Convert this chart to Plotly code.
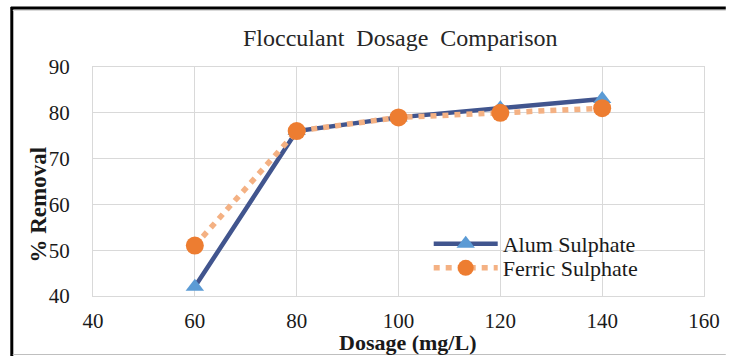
import plotly.graph_objects as go

dosage = [60, 80, 100, 120, 140]
alum = [42, 76, 79, 81, 83]
ferric = [51, 76, 79, 80, 81]
x_ticks = [40, 60, 80, 100, 120, 140, 160]
y_ticks = [40, 50, 60, 70, 80, 90]

W, H = 732, 356
ML, MR, MT, MB = 93, 22, 67, 60
PW, PH = W - ML - MR, H - MT - MB

def px(x):
    return (x - ML) / PW

def py(y):
    return (H - MB - y) / PH

SERIF = "Liberation Serif"

fig = go.Figure()
fig.add_trace(go.Scatter(
    x=dosage, y=alum, name="Alum Sulphate", mode="lines+markers",
    line=dict(color="#41558E", width=4.5),
    marker=dict(symbol="triangle-up", size=16, color="#5B9BD5"),
    cliponaxis=False, legend="legend",
))
fig.add_trace(go.Scatter(
    x=dosage, y=ferric, name="Ferric Sulphate", mode="lines+markers",
    line=dict(color="#F4B183", width=5.5, dash="6px,6px"),
    marker=dict(symbol="circle", size=18, color="#ED7D31"),
    cliponaxis=False, legend="legend2",
))

axis_common = dict(
    showgrid=True, gridcolor="#D9D9D9", gridwidth=1,
    showline=True, linecolor="#D9D9D9", linewidth=1, mirror=True,
    zeroline=False, ticks="",
    tickfont=dict(family=SERIF, size=21, color="#1a1a1a"),
)

fig.update_xaxes(range=[40, 160], tickvals=x_ticks, ticklabelstandoff=6, **axis_common)
fig.update_yaxes(range=[40, 90], tickvals=y_ticks, ticklabelstandoff=18, **axis_common)

shapes = [
    dict(type="line", xref="paper", yref="paper", x0=px(10), x1=px(732), y0=py(8), y1=py(8),
         line=dict(color="black", width=3)),
    dict(type="line", xref="paper", yref="paper", x0=px(11), x1=px(11), y0=py(7), y1=py(356),
         line=dict(color="black", width=3)),
    dict(type="line", xref="paper", yref="paper", x0=px(12), x1=px(732), y0=py(10.5), y1=py(10.5),
         line=dict(color="#D9D9D9", width=1)),
    dict(type="line", xref="paper", yref="paper", x0=px(12), x1=px(732), y0=py(354.5), y1=py(354.5),
         line=dict(color="#BFBFBF", width=1)),
]

annotations = [
    dict(text="Flocculant\u00a0 Dosage\u00a0 Comparison", xref="paper", yref="paper",
         x=px(404), y=py(38), xanchor="center", yanchor="middle", showarrow=False,
         font=dict(family=SERIF, size=24, color="#262626")),
    dict(text="<b>% Removal</b>", xref="paper", yref="paper", textangle=-90,
         x=px(37), y=py(205), xanchor="center", yanchor="middle", showarrow=False,
         font=dict(family=SERIF, size=23, color="#1a1a1a")),
    dict(text="<b>Dosage (mg/L)</b>", xref="paper", yref="paper",
         x=px(411), y=py(342), xanchor="center", yanchor="middle", showarrow=False,
         font=dict(family=SERIF, size=22, color="#1a1a1a")),
]

leg_common = dict(
    xanchor="left", yanchor="top",
    bgcolor="rgba(0,0,0,0)", borderwidth=0,
    font=dict(family=SERIF, size=22, color="#1a1a1a"),
    itemwidth=64,
)

fig.update_layout(
    width=W, height=H,
    margin=dict(l=ML, r=MR, t=MT, b=MB, pad=0),
    paper_bgcolor="white", plot_bgcolor="white",
    shapes=shapes, annotations=annotations,
    showlegend=True,
    legend=dict(x=px(432), y=py(223), **leg_common),
    legend2=dict(x=px(432), y=py(247), **leg_common),
)

fig.write_html("out.html")
